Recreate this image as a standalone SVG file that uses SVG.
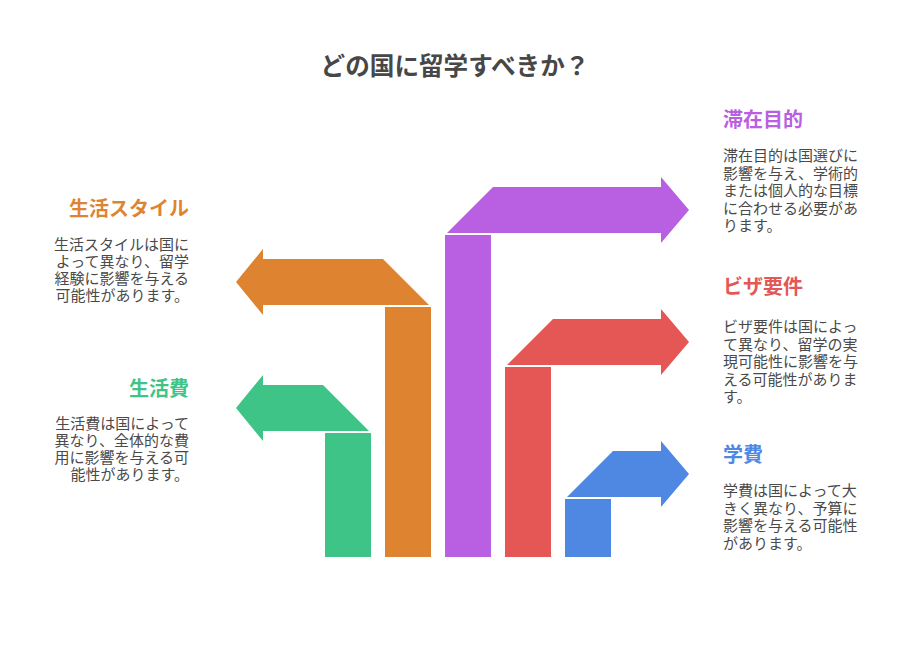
<svg xmlns="http://www.w3.org/2000/svg" width="912" height="666" viewBox="0 0 912 666">
<style>
.title{font-family:"Noto Sans CJK JP","Noto Sans",sans-serif;font-size:24.6px;font-weight:bold;fill:#474747}
.lbl{font-family:"Noto Sans CJK JP","Noto Sans",sans-serif;font-size:20px;font-weight:bold}
.body{font-family:"Noto Sans CJK JP","Noto Sans",sans-serif;font-size:15px;fill:#4a4a4a}
.r{text-anchor:end}
.green{fill:#3EC487}.orange{fill:#DE8431}.purple{fill:#B960E2}.red{fill:#E45755}.blue{fill:#4F88E3}
</style>
<rect width="912" height="666" fill="#ffffff"/>
<text class="title" x="455" y="75" text-anchor="middle">どの国に留学すべきか？</text>
<g id="connectors">
<rect class="green" x="325" y="433" width="46" height="124"/>
<rect class="orange" x="385" y="307" width="46" height="250"/>
<rect class="purple" x="445" y="235" width="46" height="322"/>
<rect class="red" x="505" y="367" width="46" height="190"/>
<rect class="blue" x="565" y="499" width="46" height="58"/>
</g>
<g id="node-living-cost">
<polygon class="green" points="369,431 323,385 263,385 263,375 236,408 263,441 263,431"/>
<text class="lbl green r" x="189" y="396">生活費</text>
<text class="body r" x="189"><tspan x="189" y="429">生活費は国によって</tspan><tspan x="189" y="446">異なり、全体的な費</tspan><tspan x="189" y="463">用に影響を与える可</tspan><tspan x="189" y="480">能性があります。</tspan></text>
</g>
<g id="node-lifestyle">
<polygon class="orange" points="429,305 383,259 263,259 263,249 236,282 263,315 263,305"/>
<text class="lbl orange r" x="189" y="216">生活スタイル</text>
<text class="body r" x="189"><tspan x="189" y="250">生活スタイルは国に</tspan><tspan x="189" y="267">よって異なり、留学</tspan><tspan x="189" y="284">経験に影響を与える</tspan><tspan x="189" y="301">可能性があります。</tspan></text>
</g>
<g id="node-purpose">
<polygon class="purple" points="447,233 493,187 661,187 661,177 689,210 661,243 661,233"/>
<text class="lbl purple" x="723" y="127">滞在目的</text>
<text class="body" x="723"><tspan x="723" y="161">滞在目的は国選びに</tspan><tspan x="723" y="178.5">影響を与え、学術的</tspan><tspan x="723" y="196">または個人的な目標</tspan><tspan x="723" y="213.5">に合わせる必要があ</tspan><tspan x="723" y="231">ります。</tspan></text>
</g>
<g id="node-visa">
<polygon class="red" points="507,365 553,319 661,319 661,309 689,342 661,375 661,365"/>
<text class="lbl red" x="723" y="294">ビザ要件</text>
<text class="body" x="723"><tspan x="723" y="332">ビザ要件は国によっ</tspan><tspan x="723" y="349.5">て異なり、留学の実</tspan><tspan x="723" y="367">現可能性に影響を与</tspan><tspan x="723" y="384.5">える可能性がありま</tspan><tspan x="723" y="402">す。</tspan></text>
</g>
<g id="node-tuition">
<polygon class="blue" points="567,497 613,451 661,451 661,441 689,474 661,507 661,497"/>
<text class="lbl blue" x="723" y="462">学費</text>
<text class="body" x="723"><tspan x="723" y="496">学費は国によって大</tspan><tspan x="723" y="513.5">きく異なり、予算に</tspan><tspan x="723" y="531">影響を与える可能性</tspan><tspan x="723" y="548.5">があります。</tspan></text>
</g>
</svg>
